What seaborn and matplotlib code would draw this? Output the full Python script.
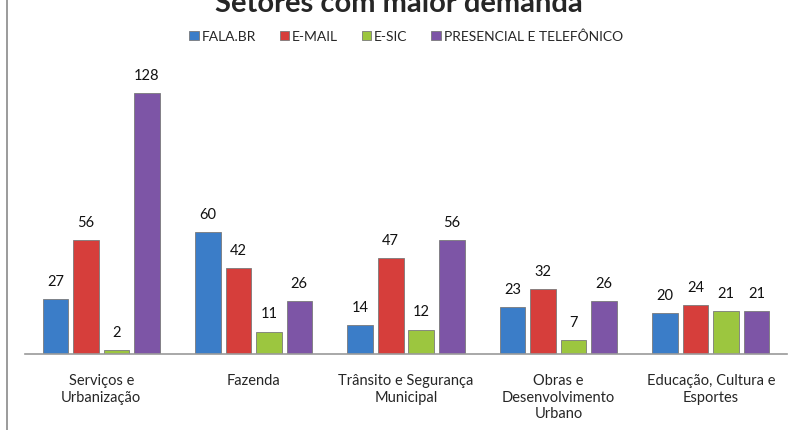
import pandas as pd
import matplotlib.pyplot as plt
import seaborn as sns
from matplotlib.lines import Line2D

setores = ["Serviços e\nUrbanização", "Fazenda", "Trânsito e Segurança\nMunicipal",
           "Obras e\nDesenvolvimento\nUrbano", "Educação, Cultura e\nEsportes"]
canais = ["FALA.BR", "E-MAIL", "E-SIC", "PRESENCIAL E TELEFÔNICO"]
fala_br = [27, 60, 14, 23, 20]
email = [56, 42, 47, 32, 24]
esic = [2, 11, 12, 7, 21]
presencial = [128, 26, 56, 26, 21]
cores = ["#3B7DC8", "#D63E3B", "#9CC63F", "#7D55A6"]

rows = []
for canal, vals in zip(canais, [fala_br, email, esic, presencial]):
    for s, v in zip(setores, vals):
        rows.append({"Setor": s, "Canal": canal, "Total": v})
df = pd.DataFrame(rows)

sns.set_style("white")
plt.rcParams['font.family'] = ['Lato', 'DejaVu Sans']

fig = plt.figure(figsize=(7.98, 4.31), dpi=100)
ax = fig.add_axes([25 / 798, 76 / 431, 762 / 798, 315 / 431])

sns.barplot(data=df, x="Setor", y="Total", hue="Canal", palette=cores, saturation=1,
            width=0.8, gap=0.16, edgecolor="#7a7a7a", linewidth=0.6, ax=ax)

for cont in ax.containers:
    ax.bar_label(cont, padding=8, fontsize=10.5, color="#111111")

ax.set_ylim(0, 154.5)
ax.set_xlim(-0.5, 4.5)
ax.set_yticks([])
ax.set_xlabel("")
ax.set_ylabel("")
for side in ["top", "right", "left"]:
    ax.spines[side].set_visible(False)
ax.spines["bottom"].set_color("#9a9a9a")
ax.spines["bottom"].set_linewidth(1.2)
ax.tick_params(axis="x", length=0, pad=14, labelsize=10.5)

leg = ax.legend(loc="center", bbox_to_anchor=(406 / 798, 1 - 37 / 431),
                bbox_transform=fig.transFigure, ncol=4, frameon=False,
                fontsize=10, handlelength=0.7, handleheight=0.7,
                handletextpad=0.2, columnspacing=1.7)

fig.text(0.5, 1 - 12 / 431, "Setores com maior demanda", ha="center",
         va="baseline", fontsize=21, fontweight="bold")
fig.add_artist(Line2D([7 / 798, 7 / 798], [0, 1], color="#8a8a8a", linewidth=1.2,
                      transform=fig.transFigure))

fig.savefig("out.png", dpi=100)
